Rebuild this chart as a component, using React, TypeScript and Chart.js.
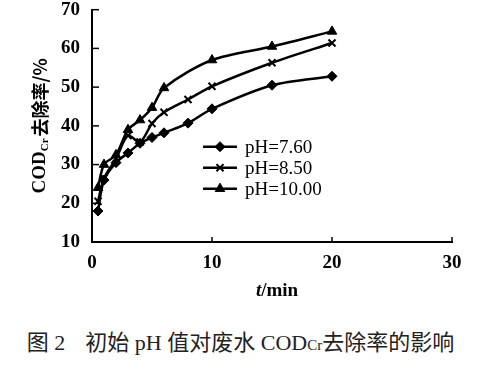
import React, { useEffect, useRef } from "react";
import { Chart, registerables } from "chart.js";
import { drawPoint } from "chart.js/helpers";

Chart.register(...registerables);

const timesA = [0.5, 1, 2, 3, 4, 5, 6, 8, 10, 15, 20];
const timesB = [0.5, 1, 2, 3, 4, 5, 6, 8, 10, 15, 20];
const timesC = [0.5, 1, 2, 3, 4, 5, 6, 10, 15, 20];
const ph760 = [18, 26, 30.5, 33, 35.5, 37, 38.2, 40.7, 44.4, 50.5, 52.8];
const ph850 = [20.5, 26.5, 31.5, 37.5, 35.8, 40.6, 43.5, 46.8, 50.2, 56.3, 61.4];
const ph1000 = [24, 30, 32.5, 39, 41.5, 44.7, 49.8, 57, 60.5, 64.4];
const seriesLabels = ["pH=7.60", "pH=8.50", "pH=10.00"];
const xTicks = [0, 10, 20, 30];
const yTicks = [10, 20, 30, 40, 50, 60, 70];

const SERIF = "'Liberation Serif', 'Times New Roman', 'Noto Sans CJK SC', serif";

function pts(xs: number[], ys: number[]) {
  return xs.map((x, i) => ({ x, y: ys[i] }));
}

const decor = {
  id: "decor",
  afterDraw(chart: any) {
    const ctx = chart.ctx;
    const area = chart.chartArea;
    const xs = chart.scales.x;
    const ys = chart.scales.y;
    ctx.save();
    ctx.strokeStyle = "#000";
    ctx.lineWidth = 1.5;
    // inner tick marks
    yTicks.forEach((v) => {
      const py = ys.getPixelForValue(v);
      ctx.beginPath();
      ctx.moveTo(area.left, py);
      ctx.lineTo(area.left + 7, py);
      ctx.stroke();
    });
    xTicks.forEach((v) => {
      const px = xs.getPixelForValue(v);
      ctx.beginPath();
      ctx.moveTo(px, area.bottom);
      ctx.lineTo(px, area.bottom - 5);
      ctx.stroke();
    });

    // y title
    ctx.fillStyle = "#000";
    ctx.save();
    ctx.translate(40, (area.top + area.bottom) / 2);
    ctx.rotate(-Math.PI / 2);
    ctx.textBaseline = "middle";
    const p1 = "COD";
    const p2 = "Cr";
    const p3 = "去除率/%";
    const big = "bold 19px " + SERIF;
    const small = "bold 11px " + SERIF;
    const cjk = "bold 18px 'Noto Sans CJK SC', " + SERIF;
    ctx.font = big;
    const w1 = ctx.measureText(p1).width;
    ctx.font = small;
    const w2 = ctx.measureText(p2).width;
    ctx.font = cjk;
    const w3 = ctx.measureText(p3).width;
    const total = w1 + w2 + w3 + 2;
    let cx = -total / 2;
    ctx.textAlign = "left";
    ctx.font = big;
    ctx.fillText(p1, cx, 0);
    cx += w1;
    ctx.font = small;
    ctx.fillText(p2, cx, 5);
    cx += w2 + 2;
    ctx.font = cjk;
    ctx.fillText(p3, cx, 0);
    ctx.restore();

    // x title
    ctx.save();
    ctx.textBaseline = "middle";
    ctx.textAlign = "left";
    ctx.font = "italic bold 19px " + SERIF;
    const tw = ctx.measureText("t").width;
    ctx.font = "bold 19px " + SERIF;
    const mw = ctx.measureText("/min").width;
    const xc = (area.left + area.right) / 2 + 5;
    const sx = xc - (tw + mw) / 2;
    ctx.font = "italic bold 19px " + SERIF;
    ctx.fillText("t", sx, 291);
    ctx.font = "bold 19px " + SERIF;
    ctx.fillText("/min", sx + tw, 291);
    ctx.restore();

    // legend
    const lx0 = area.left + 111;
    const lx1 = area.left + 145;
    const ly0 = area.top + 137;
    const gap = 21;
    chart.data.datasets.forEach((ds: any, i: number) => {
      const y = ly0 + i * gap;
      ctx.strokeStyle = "#000";
      ctx.lineWidth = 2.5;
      ctx.beginPath();
      ctx.moveTo(lx0, y);
      ctx.lineTo(lx1, y);
      ctx.stroke();
      ctx.fillStyle = "#000";
      ctx.lineWidth = ds.pointStyle === "crossRot" ? 2 : 1;
      drawPoint(
        ctx,
        { pointStyle: ds.pointStyle, radius: ds.pointRadius, borderWidth: ds.pointStyle === "crossRot" ? 2 : 1, rotation: 0 },
        (lx0 + lx1) / 2,
        y
      );
      ctx.font = "19px " + SERIF;
      ctx.textAlign = "left";
      ctx.textBaseline = "middle";
      ctx.fillStyle = "#000";
      ctx.fillText(ds.label, lx1 + 8, y + 1);
    });
    ctx.restore();
  },
};

export default function App() {
  const ref = useRef<HTMLCanvasElement | null>(null);
  useEffect(() => {
    if (!ref.current) return;
    const mk = (label: string, data: any[], style: string, radius: number) => ({
      label,
      data,
      borderColor: "#000",
      backgroundColor: "#000",
      pointBackgroundColor: "#000",
      pointBorderColor: "#000",
      borderWidth: 2.5,
      pointStyle: style,
      pointRadius: radius,
      pointBorderWidth: style === "crossRot" ? 2 : 1,
      tension: 0.3,
    });
    const chart = new Chart(ref.current, {
      type: "line",
      data: {
        datasets: [
          mk(seriesLabels[0], pts(timesA, ph760), "rectRot", 5),
          mk(seriesLabels[1], pts(timesB, ph850), "crossRot", 5),
          mk(seriesLabels[2], pts(timesC, ph1000), "triangle", 5.5),
        ],
      },
      options: {
        animation: false,
        responsive: false,
        devicePixelRatio: 1,
        layout: { padding: { top: 9, right: 29, left: 0, bottom: 0 } },
        plugins: { legend: { display: false }, tooltip: { enabled: false } },
        scales: {
          x: {
            type: "linear",
            min: 0,
            max: 30,
            afterBuildTicks: (s: any) => {
              s.ticks = xTicks.map((v) => ({ value: v }));
            },
            grid: { display: false },
            border: { display: true, color: "#000", width: 2 },
            ticks: {
              color: "#000",
              padding: 2,
              font: { family: SERIF, size: 19, weight: "bold" },
            },
            afterFit: (s: any) => {
              s.height = 68;
            },
          },
          y: {
            type: "linear",
            min: 10,
            max: 70,
            afterBuildTicks: (s: any) => {
              s.ticks = yTicks.map((v) => ({ value: v }));
            },
            grid: { display: false },
            border: { display: true, color: "#000", width: 2 },
            ticks: {
              color: "#000",
              padding: 4,
              font: { family: SERIF, size: 19, weight: "bold", lineHeight: 0.6 },
            },
            afterFit: (s: any) => {
              s.width = 92;
            },
          },
        },
      } as any,
      plugins: [decor],
    });
    return () => chart.destroy();
  }, []);

  return (
    <div style={{ position: "absolute", left: 0, top: 0, width: 481, height: 371, background: "#fff" }}>
      <canvas ref={ref} width={481} height={310} style={{ display: "block" }} />
      <div
        style={{
          position: "absolute",
          left: 0,
          top: 330,
          width: 481,
          textAlign: "center",
          fontFamily: "'Liberation Serif', 'Noto Sans CJK SC', serif",
          fontSize: 22,
          lineHeight: "26px",
          color: "#222",
          whiteSpace: "nowrap",
        }}
      >
        图 2<span style={{ display: "inline-block", width: 20 }} />初始 pH 值对废水 COD
        <span style={{ fontSize: 15 }}>Cr</span>去除率的影响
      </div>
    </div>
  );
}
